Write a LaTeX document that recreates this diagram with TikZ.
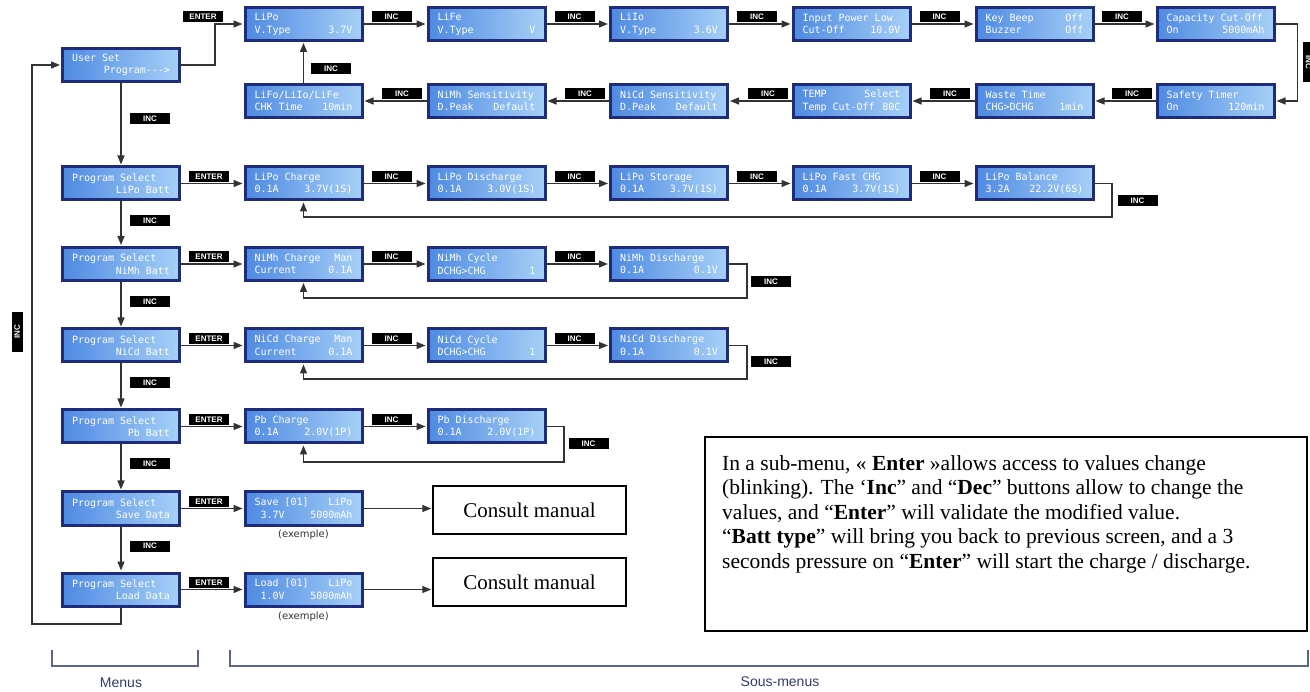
\documentclass[tikz,border=0pt]{standalone}
\usepackage{fontspec}
\setmainfont{Liberation Serif}
\setsansfont{Liberation Sans}
\newfontfamily\lcdfont{DejaVu Sans Mono}
\newfontfamily\capfont{DejaVu Sans}
\usetikzlibrary{arrows.meta}

\definecolor{lcdedge}{HTML}{1F2C7C}
\definecolor{lcdleft}{HTML}{4F8AE2}
\definecolor{lcdright}{HTML}{A6D0F7}
\definecolor{wire}{HTML}{333333}
\definecolor{brace}{HTML}{5C6496}
\definecolor{captext}{HTML}{2E3B6E}

\newcommand{\lcdrow}[2]{\hbox to 98pt{#1\hfill #2}}

\tikzset{
  lcd/.style={draw=lcdedge, line width=3pt, left color=lcdleft, right color=lcdright,
    minimum width=117pt, minimum height=33pt, inner sep=0pt, text=white,
    font=\lcdfont\fontsize{10}{12.5}\selectfont, align=left},
  keycap/.style={fill=black, text=white, minimum width=40pt, minimum height=11pt,
    inner sep=0pt, font=\sffamily\bfseries\fontsize{8}{8}\selectfont},
  link/.style={draw=wire, line width=1.3pt, -{Triangle[length=9pt,width=7pt]}, shorten >=1pt},
  manual/.style={draw, line width=1.5pt, minimum width=193pt, minimum height=48pt,
    inner sep=0pt, font=\fontsize{21}{24}\selectfont},
  notebox/.style={draw, line width=2pt, minimum width=602pt, minimum height=194pt, inner sep=0pt},
  notetext/.style={anchor=north west, inner sep=0pt, align=left, font=\fontsize{21.5}{24.5}\selectfont},
  brk/.style={draw=brace, line width=1.2pt},
  caption/.style={text=captext, font=\sffamily\fontsize{14}{14}\selectfont},
  example/.style={text=wire, font=\capfont\fontsize{10}{10}\selectfont}
}

\begin{document}
\begin{tikzpicture}[x=1pt,y=-1pt]
\useasboundingbox (0,0) rectangle (1310,692);
\clip (0,0) rectangle (1310,692);

% menus
\node[lcd] (userset) at (121,65) {\lcdrow{User Set}{}\\\lcdrow{}{Program-{}-{}->}};
\node[lcd] (mlipo) at (121,183.5) {\lcdrow{Program Select}{}\\\lcdrow{}{LiPo Batt}};
\node[lcd] (mnimh) at (121,264) {\lcdrow{Program Select}{}\\\lcdrow{}{NiMh Batt}};
\node[lcd] (mnicd) at (121,345.5) {\lcdrow{Program Select}{}\\\lcdrow{}{NiCd Batt}};
\node[lcd] (mpb) at (121,426.5) {\lcdrow{Program Select}{}\\\lcdrow{}{Pb Batt}};
\node[lcd] (msave) at (121,508.5) {\lcdrow{Program Select}{}\\\lcdrow{}{Save Data}};
\node[lcd] (mload) at (121,589.5) {\lcdrow{Program Select}{}\\\lcdrow{}{Load Data}};

% user set, first row
\node[lcd] (vlipo) at (303.5,24) {\lcdrow{LiPo}{}\\\lcdrow{V.Type}{3.7V}};
\node[lcd] (vlife) at (486.5,24) {\lcdrow{LiFe}{}\\\lcdrow{V.Type}{V}};
\node[lcd] (vliio) at (669,24) {\lcdrow{LiIo}{}\\\lcdrow{V.Type}{3.6V}};
\node[lcd] (inpow) at (851.5,24) {\lcdrow{Input Power Low}{}\\\lcdrow{Cut-Off}{10.0V}};
\node[lcd] (beep) at (1034.5,24) {\lcdrow{Key Beep}{Off}\\\lcdrow{Buzzer}{Off}};
\node[lcd] (capcut) at (1215.5,24) {\lcdrow{Capacity Cut-Off}{}\\\lcdrow{On}{5000mAh}};

% user set, second row
\node[lcd] (safety) at (1215.5,101) {\lcdrow{Safety Timer}{}\\\lcdrow{On}{120min}};
\node[lcd] (waste) at (1034.5,101) {\lcdrow{Waste Time}{}\\\lcdrow{CHG>DCHG}{1min}};
\node[lcd] (temp) at (851.5,101) {\lcdrow{TEMP}{Select}\\\lcdrow{Temp Cut-Off}{80C}};
\node[lcd] (nicdsens) at (669,101) {\lcdrow{NiCd Sensitivity}{}\\\lcdrow{D.Peak}{Default}};
\node[lcd] (nimhsens) at (486.5,101) {\lcdrow{NiMh Sensitivity}{}\\\lcdrow{D.Peak}{Default}};
\node[lcd] (chktime) at (303.5,101) {\lcdrow{LiFo/LiIo/LiFe}{}\\\lcdrow{CHK Time}{10min}};

% sub-menus
\node[lcd] (lpchg) at (303.5,183.5) {\lcdrow{LiPo Charge}{}\\\lcdrow{0.1A}{3.7V(1S)}};
\node[lcd] (lpdis) at (486.5,183.5) {\lcdrow{LiPo Discharge}{}\\\lcdrow{0.1A}{3.0V(1S)}};
\node[lcd] (lpsto) at (669,183.5) {\lcdrow{LiPo Storage}{}\\\lcdrow{0.1A}{3.7V(1S)}};
\node[lcd] (lpfast) at (851.5,183.5) {\lcdrow{LiPo Fast CHG}{}\\\lcdrow{0.1A}{3.7V(1S)}};
\node[lcd] (lpbal) at (1034.5,183.5) {\lcdrow{LiPo Balance}{}\\\lcdrow{3.2A}{22.2V(6S)}};

\node[lcd] (nmchg) at (303.5,264) {\lcdrow{NiMh Charge}{Man}\\\lcdrow{Current}{0.1A}};
\node[lcd] (nmcyc) at (486.5,264) {\lcdrow{NiMh Cycle}{}\\\lcdrow{DCHG>CHG}{1}};
\node[lcd] (nmdis) at (669,264) {\lcdrow{NiMh Discharge}{}\\\lcdrow{0.1A}{0.1V}};

\node[lcd] (ncchg) at (303.5,345.5) {\lcdrow{NiCd Charge}{Man}\\\lcdrow{Current}{0.1A}};
\node[lcd] (nccyc) at (486.5,345.5) {\lcdrow{NiCd Cycle}{}\\\lcdrow{DCHG>CHG}{1}};
\node[lcd] (ncdis) at (669,345.5) {\lcdrow{NiCd Discharge}{}\\\lcdrow{0.1A}{0.1V}};

\node[lcd] (pbchg) at (303.5,426.5) {\lcdrow{Pb Charge}{}\\\lcdrow{0.1A}{2.0V(1P)}};
\node[lcd] (pbdis) at (486.5,426.5) {\lcdrow{Pb Discharge}{}\\\lcdrow{0.1A}{2.0V(1P)}};

\node[lcd] (svdata) at (303.5,508.5) {\lcdrow{Save [01]}{LiPo}\\\lcdrow{\ 3.7V}{5000mAh}};
\node[lcd] (lddata) at (303.5,589.5) {\lcdrow{Load [01]}{LiPo}\\\lcdrow{\ 1.0V}{5000mAh}};
\node[example] (exsave) at (303.5,535) {(exemple)};
\node[example] (exload) at (303.5,617) {(exemple)};

\node[manual] (mana) at (529.5,510) {Consult manual};
\node[manual] (manb) at (529.5,582) {Consult manual};

% key labels
\node[keycap] (kenter0) at (203,17) {ENTER};
\node[keycap] (kinc1) at (391.5,17) {INC};
\node[keycap] (kinc2) at (574.5,17) {INC};
\node[keycap] (kinc3) at (757,17) {INC};
\node[keycap] (kinc4) at (939.5,17) {INC};
\node[keycap] (kinc5) at (1122,17) {INC};
\node[keycap, rotate=-90] (kinc6) at (1308.5,62) {INC};
\node[keycap] (kinc7) at (1132,94) {INC};
\node[keycap] (kinc8) at (950,94) {INC};
\node[keycap] (kinc9) at (768,94) {INC};
\node[keycap] (kinc10) at (585,94) {INC};
\node[keycap] (kinc11) at (402,94) {INC};
\node[keycap] (kinc12) at (331,69) {INC};

\node[keycap] (kmenu1) at (150,118.5) {INC};
\node[keycap] (kmenu2) at (150,220.5) {INC};
\node[keycap] (kmenu3) at (150,301.5) {INC};
\node[keycap] (kmenu4) at (150,383) {INC};
\node[keycap] (kmenu5) at (150,464) {INC};
\node[keycap] (kmenu6) at (150,546) {INC};
\node[keycap, rotate=90] (kback) at (17,332) {INC};

\node[keycap] (kenter1) at (209,176.5) {ENTER};
\node[keycap] (kenter2) at (209,257) {ENTER};
\node[keycap] (kenter3) at (209,338.5) {ENTER};
\node[keycap] (kenter4) at (209,419.5) {ENTER};
\node[keycap] (kenter5) at (209,501.5) {ENTER};
\node[keycap] (kenter6) at (209,582.5) {ENTER};

\node[keycap] (klp1) at (391.5,176.5) {INC};
\node[keycap] (klp2) at (574.5,176.5) {INC};
\node[keycap] (klp3) at (757,176.5) {INC};
\node[keycap] (klp4) at (939.5,176.5) {INC};
\node[keycap] (klp5) at (1137.5,200.5) {INC};
\node[keycap] (knm1) at (391.5,257) {INC};
\node[keycap] (knm2) at (574.5,257) {INC};
\node[keycap] (knm3) at (771,281.5) {INC};
\node[keycap] (knc1) at (391.5,338.5) {INC};
\node[keycap] (knc2) at (574.5,338.5) {INC};
\node[keycap] (knc3) at (771,362) {INC};
\node[keycap] (kpb1) at (391.5,419.5) {INC};
\node[keycap] (kpb2) at (588.5,443.5) {INC};

% turning points
\coordinate (backcorner) at (32,624);
\coordinate (lpback) at (1112,217);
\coordinate (nmback) at (747,298);
\coordinate (ncback) at (747,379);
\coordinate (pbback) at (564,462);

% connectors
\draw[link] (userset.east) -- ++(34,0) |- (vlipo.west);
\draw[link] (vlipo.east) -- (vlife.west);
\draw[link] (vlife.east) -- (vliio.west);
\draw[link] (vliio.east) -- (inpow.west);
\draw[link] (inpow.east) -- (beep.west);
\draw[link] (beep.east) -- (capcut.west);
\draw[link] (capcut.east) -- ++(22,0) |- (safety.east);
\draw[link] (safety.west) -- (waste.east);
\draw[link] (waste.west) -- (temp.east);
\draw[link] (temp.west) -- (nicdsens.east);
\draw[link] (nicdsens.west) -- (nimhsens.east);
\draw[link] (nimhsens.west) -- (chktime.east);
\draw[link] (chktime.north) -- (vlipo.south);

\draw[link] (userset.south) -- (mlipo.north);
\draw[link] (mlipo.south) -- (mnimh.north);
\draw[link] (mnimh.south) -- (mnicd.north);
\draw[link] (mnicd.south) -- (mpb.north);
\draw[link] (mpb.south) -- (msave.north);
\draw[link] (msave.south) -- (mload.north);
\draw[link] (mload.south) |- (backcorner) |- (userset.west);

\draw[link] (mlipo.east) -- (lpchg.west);
\draw[link] (lpchg.east) -- (lpdis.west);
\draw[link] (lpdis.east) -- (lpsto.west);
\draw[link] (lpsto.east) -- (lpfast.west);
\draw[link] (lpfast.east) -- (lpbal.west);
\draw[link] (lpbal.east) -| (lpback) -| (lpchg.south);

\draw[link] (mnimh.east) -- (nmchg.west);
\draw[link] (nmchg.east) -- (nmcyc.west);
\draw[link] (nmcyc.east) -- (nmdis.west);
\draw[link] (nmdis.east) -| (nmback) -| (nmchg.south);

\draw[link] (mnicd.east) -- (ncchg.west);
\draw[link] (ncchg.east) -- (nccyc.west);
\draw[link] (nccyc.east) -- (ncdis.west);
\draw[link] (ncdis.east) -| (ncback) -| (ncchg.south);

\draw[link] (mpb.east) -- (pbchg.west);
\draw[link] (pbchg.east) -- (pbdis.west);
\draw[link] (pbdis.east) -| (pbback) -| (pbchg.south);

\draw[link] (msave.east) -- (svdata.west);
\draw[link] (svdata.east) -- (svdata.east -| mana.west);
\draw[link] (mload.east) -- (lddata.west);
\draw[link] (lddata.east) -- (lddata.east -| manb.west);

% note
\node[notebox] (notebox) at (1006,534) {};
\node[notetext] (notetxt) at (722,455) {In a sub-menu, « \textbf{Enter} »allows access to values change\\
(blinking). The ‘\textbf{Inc}” and “\textbf{Dec}” buttons allow to change the\\
values, and “\textbf{Enter}” will validate the modified value.\\
“\textbf{Batt type}” will bring you back to previous screen, and a 3\\
seconds pressure on “\textbf{Enter}” will start the charge / discharge.};

% brackets
\draw[brk] (52,650) |- (198,666) -- (198,650);
\draw[brk] (230,650) |- (1308,666) -- (1308,650);
\node[caption] (capmenus) at (121,683) {Menus};
\node[caption] (capsous) at (780,682) {Sous-menus};
\end{tikzpicture}
\end{document}
